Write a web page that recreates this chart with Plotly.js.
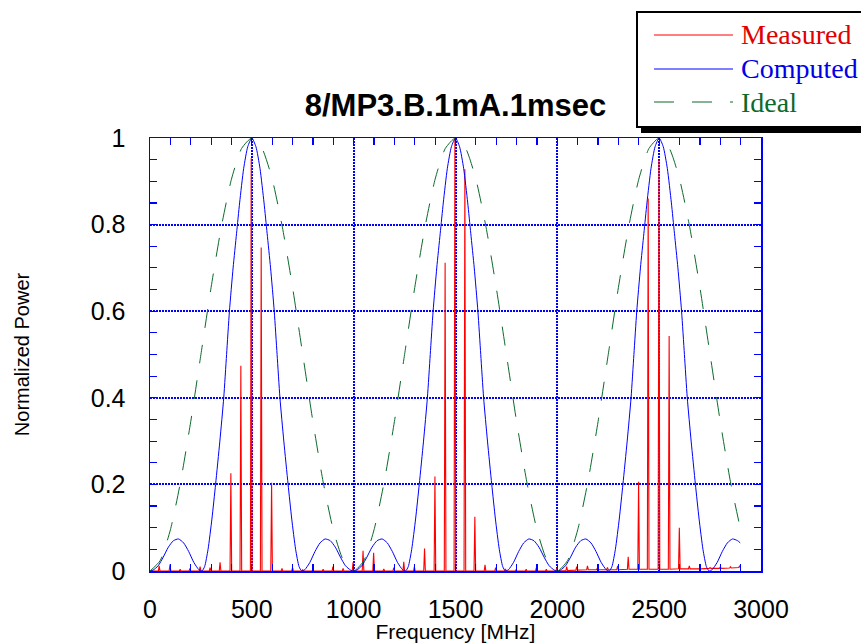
<!DOCTYPE html>
<html>
<head>
<meta charset="utf-8">
<script src="https://cdn.plot.ly/plotly-3.0.1.min.js"></script>
<style>html,body{margin:0;padding:0;background:#fff;}#chart{width:861px;height:643px;}</style>
</head>
<body>
<div id="chart"></div>
<script>
// ---- data ----
var chartTitle = "8/MP3.B.1mA.1msec";
var xTickVals = [0, 500, 1000, 1500, 2000, 2500, 3000];
var xTickLabels = ["0", "500", "1000", "1500", "2000", "2500", "3000"];
var yTickVals = [0, 0.2, 0.4, 0.6, 0.8, 1];
var yTickLabels = ["0", "0.2", "0.4", "0.6", "0.8", "1"];

// Measured: spectral lines (frequency of each line, its peak, and the floor under it)
var measuredFreq = [45, 98, 148, 196, 246, 295, 344, 397, 446, 497, 546, 597, 648, 700, 750, 800, 850, 898, 948, 997,
  1046, 1098, 1148, 1197, 1246, 1298, 1348, 1399, 1449, 1497, 1546, 1595, 1645, 1697, 1745, 1797, 1847, 1897, 1946, 1997,
  2046, 2095, 2148, 2196, 2246, 2296, 2348, 2399, 2446, 2499, 2549, 2599, 2648, 2700, 2750, 2800, 2850, 2895];
var measuredPower = [0.012, 0.015, 0.004, 0.006, 0.01, 0.008, 0.02, 0.226, 0.474, 0.953, 0.747, 0.204, 0.006, 0.008, 0.003, 0.005, 0.004, 0.01, 0.006, 0.02,
  0.047, 0.042, 0.005, 0.008, 0.021, 0.01, 0.052, 0.218, 0.712, 1.0, 0.928, 0.125, 0.014, 0.008, 0.005, 0.003, 0.004, 0.008, 0.004, 0.006,
  0.01, 0.01, 0.012, 0.006, 0.008, 0.012, 0.033, 0.206, 0.86, 0.95, 0.543, 0.1, 0.012, 0.008, 0.008, 0.009, 0.01, 0.012];
var measuredFloor = [0, 0, 0, 0, 0, 0, 0, 0, 0, 0, 0, 0, 0, 0, 0, 0, 0, 0, 0, 0,
  0, 0, 0, 0, 0, 0, 0, 0, 0, 0, 0, 0, 0, 0, 0, 0, 0, 0, 0, 0,
  0.001, 0.002, 0.003, 0.003, 0.003, 0.003, 0.004, 0.004, 0.004, 0.004, 0.004, 0.005, 0.005, 0.005, 0.006, 0.006, 0.007, 0.008];

// Computed response
var computedFreq = [0, 15, 40, 65, 90, 115, 140, 165, 190, 215, 240, 255, 268, 285, 304, 322, 343, 362, 376, 390, 408, 425, 440, 460, 480,
  500, 520, 540, 560, 575, 592, 610, 624, 638, 657, 678, 696, 715, 732, 745, 760, 785, 810, 835, 860, 885, 910, 935, 960, 985,
  1000, 1015, 1040, 1065, 1090, 1115, 1140, 1165, 1190, 1215, 1240, 1255, 1268, 1285, 1304, 1322, 1343, 1362, 1376, 1390, 1408, 1425, 1440, 1460, 1480,
  1500, 1520, 1540, 1560, 1575, 1592, 1610, 1624, 1638, 1657, 1678, 1696, 1715, 1732, 1745, 1760, 1785, 1810, 1835, 1860, 1885, 1910, 1935, 1960, 1985,
  2000, 2015, 2040, 2065, 2090, 2115, 2140, 2165, 2190, 2215, 2240, 2255, 2268, 2285, 2304, 2322, 2343, 2362, 2376, 2390, 2408, 2425, 2440, 2460, 2480,
  2500, 2520, 2540, 2560, 2575, 2592, 2610, 2624, 2638, 2657, 2678, 2696, 2715, 2732, 2745, 2760, 2785, 2810, 2835, 2860, 2885, 2898];
var computedPower = [0, 0.002, 0.012, 0.032, 0.055, 0.07, 0.074, 0.065, 0.045, 0.02, 0.003, 0, 0.01, 0.05, 0.12, 0.2, 0.3, 0.4, 0.5, 0.6, 0.7, 0.78, 0.85, 0.93, 0.98,
  1, 0.98, 0.93, 0.85, 0.78, 0.7, 0.6, 0.5, 0.4, 0.3, 0.2, 0.12, 0.05, 0.01, 0, 0.003, 0.02, 0.045, 0.065, 0.074, 0.07, 0.055, 0.032, 0.012, 0.002,
  0, 0.002, 0.012, 0.032, 0.055, 0.07, 0.074, 0.065, 0.045, 0.02, 0.003, 0, 0.01, 0.05, 0.12, 0.2, 0.3, 0.4, 0.5, 0.6, 0.7, 0.78, 0.85, 0.93, 0.98,
  1, 0.98, 0.93, 0.85, 0.78, 0.7, 0.6, 0.5, 0.4, 0.3, 0.2, 0.12, 0.05, 0.01, 0, 0.003, 0.02, 0.045, 0.065, 0.074, 0.07, 0.055, 0.032, 0.012, 0.002,
  0, 0.002, 0.012, 0.032, 0.055, 0.07, 0.074, 0.065, 0.045, 0.02, 0.003, 0, 0.01, 0.05, 0.12, 0.2, 0.3, 0.4, 0.5, 0.6, 0.7, 0.78, 0.85, 0.93, 0.98,
  1, 0.98, 0.93, 0.85, 0.78, 0.7, 0.6, 0.5, 0.4, 0.3, 0.2, 0.12, 0.05, 0.01, 0, 0.003, 0.02, 0.045, 0.065, 0.074, 0.07, 0.065];

// Ideal response
var idealFreq = [0, 50, 100, 150, 200, 250, 300, 350, 400, 450, 500, 550, 600, 650, 700, 750, 800, 850, 900, 950,
  1000, 1050, 1100, 1150, 1200, 1250, 1300, 1350, 1400, 1450, 1500, 1550, 1600, 1650, 1700, 1750, 1800, 1850, 1900, 1950,
  2000, 2050, 2100, 2150, 2200, 2250, 2300, 2350, 2400, 2450, 2500, 2550, 2600, 2650, 2700, 2750, 2800, 2850, 2900];
var idealPower = [0, 0.024, 0.095, 0.206, 0.345, 0.5, 0.655, 0.794, 0.905, 0.976, 1, 0.976, 0.905, 0.794, 0.655, 0.5, 0.345, 0.206, 0.095, 0.024,
  0, 0.024, 0.095, 0.206, 0.345, 0.5, 0.655, 0.794, 0.905, 0.976, 1, 0.976, 0.905, 0.794, 0.655, 0.5, 0.345, 0.206, 0.095, 0.024,
  0, 0.024, 0.095, 0.206, 0.345, 0.5, 0.655, 0.794, 0.905, 0.976, 1, 0.976, 0.905, 0.794, 0.655, 0.5, 0.345, 0.206, 0.095];

var seriesNames = ["Measured", "Computed", "Ideal"];
var seriesColors = ["#ff0000", "#0000ff", "#0b6a2a"];
var textColors = ["#e00000", "#0000e6", "#0b6a2a"];

// ---- build the measured line trace from the spectral lines ----
var mx = [0], my = [0];
for (var i = 0; i < measuredFreq.length; i++) {
  mx.push(measuredFreq[i] - 4, measuredFreq[i], measuredFreq[i] + 4);
  my.push(measuredFloor[i], measuredPower[i], measuredFloor[i]);
}
mx.push(2900); my.push(measuredFloor[measuredFloor.length - 1]);

var traces = [
  {x: mx, y: my, type: "scatter", mode: "lines", name: seriesNames[0],
   line: {color: seriesColors[0], width: 1.1}, showlegend: false, hoverinfo: "x+y"},
  {x: computedFreq, y: computedPower, type: "scatter", mode: "lines", name: seriesNames[1],
   line: {color: seriesColors[1], width: 1, shape: "spline", smoothing: 0.6}, showlegend: false},
  {x: idealFreq, y: idealPower, type: "scatter", mode: "lines", name: seriesNames[2],
   line: {color: seriesColors[2], width: 1, dash: "19px,17px", shape: "spline", smoothing: 0.6}, showlegend: false}
];

// pixel -> paper helpers for the legend box (plot area 150..761 x, 138..571 y)
var L = 150, R = 761, T = 138, B = 571;
function px(x) { return (x - L) / (R - L); }
function py(y) { return (B - y) / (B - T); }

var legendY = [35, 69, 102];
var shapes = [
  {type: "rect", xref: "paper", yref: "paper", x0: px(641), x1: px(900), y0: py(133), y1: py(16),
   fillcolor: "#000", line: {width: 0}},
  {type: "rect", xref: "paper", yref: "paper", x0: px(637), x1: px(895), y0: py(127), y1: py(12),
   fillcolor: "#fff", line: {color: "#000", width: 2}}
];
var annotations = [];
for (var k = 0; k < 3; k++) {
  shapes.push({type: "line", xref: "paper", yref: "paper", x0: px(654), x1: px(733), y0: py(legendY[k]), y1: py(legendY[k]),
    line: {color: seriesColors[k], width: 1, dash: k === 2 ? "20px,18px" : "solid"}});
  annotations.push({xref: "paper", yref: "paper", x: px(739), y: py(legendY[k]), xanchor: "left", yanchor: "middle",
    text: seriesNames[k], showarrow: false,
    font: {family: "Liberation Serif, Times New Roman, serif", size: 28, color: textColors[k]}});
}

var axisCommon = {
  showline: true, linecolor: "#0000ff", linewidth: 1.5, mirror: "allticks",
  ticks: "inside", ticklen: 7, tickwidth: 1.2, tickcolor: "#0000ff",
  showgrid: true, gridcolor: "#0000ff", gridwidth: 2, griddash: "2px,1px",
  zeroline: false, tickfont: {family: "Liberation Sans, Arial, sans-serif", size: 25, color: "#000"}
};

var layout = {
  width: 861, height: 643,
  margin: {l: L, r: 861 - R, t: T, b: 643 - B, pad: 0},
  paper_bgcolor: "#fff", plot_bgcolor: "#fff",
  showlegend: false,
  title: {text: chartTitle, x: 0.5, xref: "paper", xanchor: "center", y: 1 - 105 / 643, yref: "container", yanchor: "middle",
    font: {family: "Liberation Sans, Arial, sans-serif", size: 31, weight: 700, color: "#000"}},
  xaxis: Object.assign({}, axisCommon, {
    range: [0, 3000], tickvals: xTickVals, ticktext: xTickLabels, ticklabelstandoff: 15,
    minor: {dtick: 100, tick0: 0, ticks: "inside", ticklen: 7, tickwidth: 1.2, tickcolor: "#0000ff", showgrid: false},
    title: {text: "Frequency [MHz]", standoff: 13, font: {family: "Liberation Sans, Arial, sans-serif", size: 21, color: "#000"}}
  }),
  yaxis: Object.assign({}, axisCommon, {
    range: [0, 1], tickvals: yTickVals, ticktext: yTickLabels, ticklabelstandoff: 18,
    minor: {dtick: 0.05, tick0: 0, ticks: "inside", ticklen: 7, tickwidth: 1.2, tickcolor: "#0000ff", showgrid: false},
    title: {text: "Normalized Power", standoff: 55, font: {family: "Liberation Sans, Arial, sans-serif", size: 20, color: "#000"}}
  }),
  shapes: shapes,
  annotations: annotations
};

Plotly.newPlot("chart", traces, layout, {staticPlot: true, displayModeBar: false});
</script>
</body>
</html>
